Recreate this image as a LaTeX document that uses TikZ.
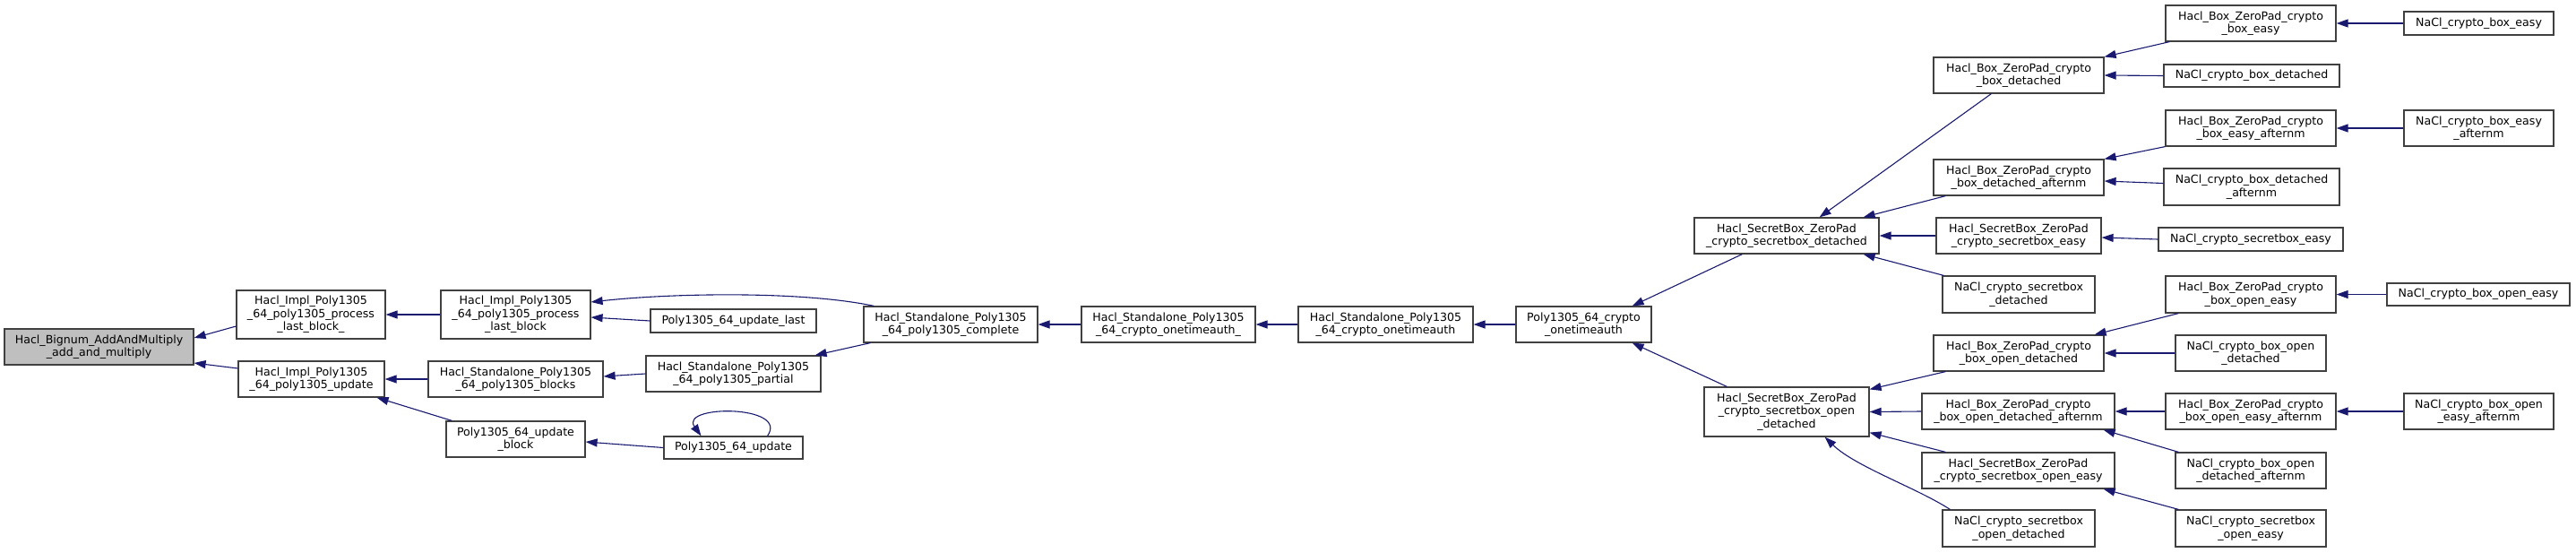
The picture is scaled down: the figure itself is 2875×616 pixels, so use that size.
\documentclass[tikz,border=0pt]{standalone}
\usepackage{fontspec}
\setmainfont{DejaVu Sans}
\usetikzlibrary{arrows.meta}
\definecolor{edgeblue}{HTML}{191970}
\definecolor{rootgray}{HTML}{BFBFBF}

\begin{document}
\begin{tikzpicture}[x=1pt, y=-1pt,
    fnbox/.style 2 args={draw=black!75, line width=1.2pt, fill=white, align=center, inner sep=0pt,
      minimum width=#1pt, minimum height=#2pt, font=\fontsize{12.6}{14.5}\selectfont},
    call/.style={draw=edgeblue, line width=1.1pt, -{Triangle[length=13pt, width=9pt]}}]
\useasboundingbox (0,0) rectangle (2875,616);

\node[fnbox={211}{40}, fill=rootgray] (bignum) at (110.5,387) {Hacl\_Bignum\_AddAndMultiply\\\_add\_and\_multiply};
\node[fnbox={166}{54}] (plbx) at (347,351) {Hacl\_Impl\_Poly1305\\\_64\_poly1305\_process\\\_last\_block\_};
\node[fnbox={163}{40}] (iupd) at (347.5,423) {Hacl\_Impl\_Poly1305\\\_64\_poly1305\_update};
\node[fnbox={167}{54}] (plb) at (575.5,351) {Hacl\_Impl\_Poly1305\\\_64\_poly1305\_process\\\_last\_block};
\node[fnbox={195}{40}] (blocks) at (575.5,423) {Hacl\_Standalone\_Poly1305\\\_64\_poly1305\_blocks};
\node[fnbox={155}{40}] (updblock) at (575.5,490) {Poly1305\_64\_update\\\_block};
\node[fnbox={185}{26}] (updlast) at (818.5,358) {Poly1305\_64\_update\_last};
\node[fnbox={195}{40}] (partial) at (818.5,417) {Hacl\_Standalone\_Poly1305\\\_64\_poly1305\_partial};
\node[fnbox={155}{25}] (upd) at (818.5,499.5) {Poly1305\_64\_update};
\node[fnbox={194}{40}] (complete) at (1061,362) {Hacl\_Standalone\_Poly1305\\\_64\_poly1305\_complete};
\node[fnbox={194}{40}] (otax) at (1304,362) {Hacl\_Standalone\_Poly1305\\\_64\_crypto\_onetimeauth\_};
\node[fnbox={195}{40}] (ota) at (1546.5,362) {Hacl\_Standalone\_Poly1305\\\_64\_crypto\_onetimeauth};
\node[fnbox={151}{40}] (cota) at (1767.5,362) {Poly1305\_64\_crypto\\\_onetimeauth};

\node[fnbox={206}{40}] (sbdet) at (1994,263) {Hacl\_SecretBox\_ZeroPad\\\_crypto\_secretbox\_detached};
\node[fnbox={184}{55}] (sbodet) at (1994,459.5) {Hacl\_SecretBox\_ZeroPad\\\_crypto\_secretbox\_open\\\_detached};

\node[fnbox={190}{40}] (boxdet) at (2253,84) {Hacl\_Box\_ZeroPad\_crypto\\\_box\_detached};
\node[fnbox={190}{40}] (boxdetaft) at (2253,198) {Hacl\_Box\_ZeroPad\_crypto\\\_box\_detached\_afternm};
\node[fnbox={184}{40}] (sbeasy) at (2253,263) {Hacl\_SecretBox\_ZeroPad\\\_crypto\_secretbox\_easy};
\node[fnbox={170}{41}] (naclsbdet) at (2253,328.5) {NaCl\_crypto\_secretbox\\\_detached};
\node[fnbox={190}{40}] (boxodet) at (2253,394) {Hacl\_Box\_ZeroPad\_crypto\\\_box\_open\_detached};
\node[fnbox={215}{40}] (boxodetaft) at (2252.5,459) {Hacl\_Box\_ZeroPad\_crypto\\\_box\_open\_detached\_afternm};
\node[fnbox={215}{40}] (sboeasy) at (2252.5,525) {Hacl\_SecretBox\_ZeroPad\\\_crypto\_secretbox\_open\_easy};
\node[fnbox={170}{41}] (naclsbodet) at (2253,589.5) {NaCl\_crypto\_secretbox\\\_open\_detached};

\node[fnbox={190}{40}] (boxeasy) at (2512,26) {Hacl\_Box\_ZeroPad\_crypto\\\_box\_easy};
\node[fnbox={196}{25}] (naclboxdet) at (2513,84.5) {NaCl\_crypto\_box\_detached};
\node[fnbox={190}{40}] (boxeasyaft) at (2512,143) {Hacl\_Box\_ZeroPad\_crypto\\\_box\_easy\_afternm};
\node[fnbox={196}{41}] (naclboxdetaft) at (2513,208.5) {NaCl\_crypto\_box\_detached\\\_afternm};
\node[fnbox={206}{26}] (naclsbeasy) at (2512,267) {NaCl\_crypto\_secretbox\_easy};
\node[fnbox={190}{41}] (boxoeasy) at (2512,328.5) {Hacl\_Box\_ZeroPad\_crypto\\\_box\_open\_easy};
\node[fnbox={168}{40}] (naclboxodet) at (2512,394) {NaCl\_crypto\_box\_open\\\_detached};
\node[fnbox={190}{40}] (boxoeasyaft) at (2512,459) {Hacl\_Box\_ZeroPad\_crypto\\\_box\_open\_easy\_afternm};
\node[fnbox={168}{40}] (naclboxodetaft) at (2512,525) {NaCl\_crypto\_box\_open\\\_detached\_afternm};
\node[fnbox={168}{41}] (naclsboeasy) at (2512,589.5) {NaCl\_crypto\_secretbox\\\_open\_easy};

\node[fnbox={167}{26}] (naclboxeasy) at (2766.5,26) {NaCl\_crypto\_box\_easy};
\node[fnbox={167}{40}] (naclboxeasyaft) at (2766.5,143) {NaCl\_crypto\_box\_easy\\\_afternm};
\node[fnbox={204}{25}] (naclboxoeasy) at (2766,328.5) {NaCl\_crypto\_box\_open\_easy};
\node[fnbox={167}{40}] (naclboxoeasyaft) at (2766.5,459) {NaCl\_crypto\_box\_open\\\_easy\_afternm};

\draw[call] ([yshift=-13pt]plbx.west) -- ([yshift=10pt]bignum.east);
\draw[call] ([yshift=12pt]iupd.west) -- ([yshift=-18pt]bignum.east);
\draw[call] (plb.west) -- (plbx.east);
\draw[call] ([xshift=12pt]complete.north west) .. controls +(-80,-17) and +(90,-10) .. ([yshift=14pt]plb.east);
\draw[call] (updlast.west) -- ([yshift=-3pt]plb.east);
\draw[call] (blocks.west) -- (iupd.east);
\draw[call] ([xshift=7pt]updblock.north west) -- ([xshift=-9pt]iupd.south east);
\draw[call] (partial.west) -- ([yshift=3pt]blocks.east);
\draw[call] ([xshift=8pt]complete.south west) -- ([xshift=-7pt]partial.north east);
\draw[call] (upd.west) -- ([yshift=-3pt]updblock.east);
\draw[call] ([xshift=38pt]upd.north) .. controls +(25,-35) and +(-25,-35) .. ([xshift=-36pt]upd.north);
\draw[call] (otax.west) -- (complete.east);
\draw[call] (ota.west) -- (otax.east);
\draw[call] (cota.west) -- (ota.east);

\draw[call] ([xshift=54pt]sbdet.south west) -- ([xshift=-22pt]cota.north east);
\draw[call] ([xshift=26pt]sbodet.north west) -- ([xshift=-22pt]cota.south east);

\draw[call] ([xshift=65pt]boxdet.south west) -- ([xshift=-67pt]sbdet.north east);
\draw[call] ([xshift=14pt]boxdetaft.south west) -- ([xshift=-18pt]sbdet.north east);
\draw[call] (sbeasy.west) -- (sbdet.east);
\draw[call] ([xshift=2pt]naclsbdet.north west) -- ([xshift=-18pt]sbdet.south east);
\draw[call] ([xshift=14pt]boxodet.south west) -- ([yshift=-3pt]sbodet.north east);
\draw[call] (boxodetaft.west) -- (sbodet.east);
\draw[call] ([xshift=27pt]sboeasy.north west) -- ([yshift=5pt]sbodet.south east);
\draw[call] ([xshift=9pt]naclsbodet.north west) .. controls +(-37,-24) and +(34,33) .. ([xshift=-50pt]sbodet.south east);

\draw[call] ([xshift=5pt]boxeasy.south west) -- (boxdet.north east);
\draw[call] (naclboxdet.west) -- (boxdet.east);
\draw[call] (boxeasyaft.south west) -- (boxdetaft.north east);
\draw[call] ([yshift=4pt]naclboxdetaft.west) -- ([yshift=-4pt]boxdetaft.east);
\draw[call] (naclsbeasy.west) -- ([yshift=-2pt]sbeasy.east);
\draw[call] ([xshift=15pt]boxoeasy.south west) -- ([xshift=-11pt]boxodet.north east);
\draw[call] (naclboxodet.west) -- (boxodet.east);
\draw[call] (boxoeasyaft.west) -- (boxodetaft.east);
\draw[call] ([xshift=4pt]naclboxodetaft.north west) -- ([xshift=-13pt]boxodetaft.south east);
\draw[call] ([xshift=4pt]naclsboeasy.north west) -- ([xshift=-13pt]sboeasy.south east);

\draw[call] (naclboxeasy.west) -- (boxeasy.east);
\draw[call] (naclboxeasyaft.west) -- (boxeasyaft.east);
\draw[call] (naclboxoeasy.west) -- (boxoeasy.east);
\draw[call] (naclboxoeasyaft.west) -- (boxoeasyaft.east);
\end{tikzpicture}
\end{document}
